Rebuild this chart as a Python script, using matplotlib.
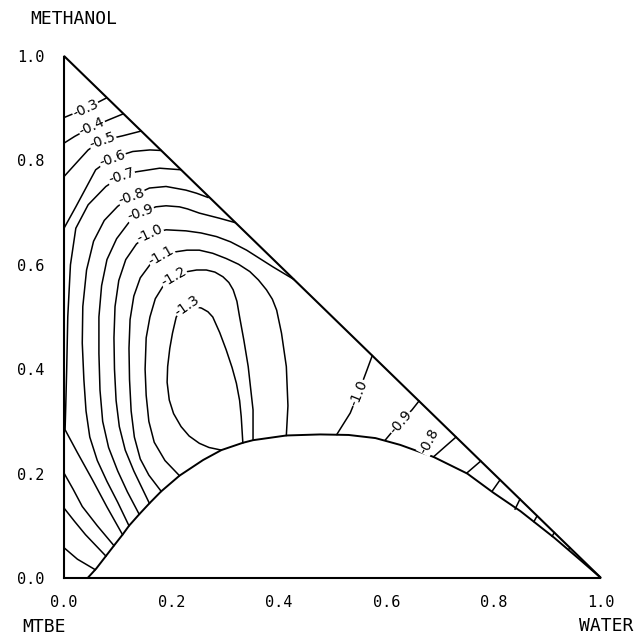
import matplotlib
matplotlib.use("Agg")
import matplotlib.pyplot as plt

# phase boundary (x = water, y = methanol)
binodal_x = [0.044, 0.060, 0.078, 0.093, 0.109, 0.121, 0.140, 0.159, 0.181, 0.215, 0.259, 0.293, 0.333,
             0.352, 0.414, 0.477, 0.530, 0.580, 0.626, 0.688, 0.751, 0.800, 0.850, 0.913, 0.963, 1.000]
binodal_y = [0.000, 0.018, 0.042, 0.062, 0.083, 0.100, 0.122, 0.143, 0.166, 0.196, 0.226, 0.245, 0.259,
             0.264, 0.273, 0.275, 0.274, 0.268, 0.255, 0.232, 0.200, 0.163, 0.128, 0.077, 0.033, 0.000]

# contour lines, (water, methanol) pairs
c03 = [(0.0, 0.882), (0.040, 0.899), (0.078, 0.919)]
c04 = [(0.0, 0.833), (0.020, 0.846), (0.052, 0.864), (0.084, 0.878), (0.110, 0.889)]
c05 = [(0.0, 0.769), (0.022, 0.794), (0.045, 0.820), (0.070, 0.838), (0.109, 0.847), (0.143, 0.856)]
c06 = [(0.0, 0.670), (0.022, 0.711), (0.059, 0.782), (0.088, 0.804), (0.128, 0.817), (0.160, 0.820),
       (0.180, 0.819)]
c07 = [(0.218, 0.782), (0.178, 0.785), (0.134, 0.778), (0.106, 0.769), (0.078, 0.750), (0.045, 0.715),
       (0.022, 0.670), (0.012, 0.600), (0.007, 0.500), (0.005, 0.400), (0.003, 0.320), (0.002, 0.284),
       (0.025, 0.240), (0.053, 0.188), (0.080, 0.136), (0.109, 0.083)]
c08 = [(0.268, 0.729), (0.247, 0.737), (0.227, 0.743), (0.190, 0.750), (0.159, 0.747), (0.126, 0.731),
       (0.100, 0.712), (0.075, 0.685), (0.055, 0.645), (0.042, 0.590), (0.035, 0.520), (0.034, 0.450),
       (0.037, 0.380), (0.041, 0.320), (0.048, 0.270), (0.062, 0.225), (0.080, 0.185), (0.100, 0.145),
       (0.121, 0.100)]
c09 = [(0.318, 0.681), (0.290, 0.689), (0.252, 0.699), (0.230, 0.707), (0.215, 0.711), (0.190, 0.713),
       (0.171, 0.711), (0.143, 0.699), (0.120, 0.680), (0.098, 0.650), (0.080, 0.610), (0.070, 0.560),
       (0.065, 0.500), (0.065, 0.430), (0.067, 0.360), (0.072, 0.300), (0.083, 0.250), (0.100, 0.205),
       (0.118, 0.165), (0.140, 0.122)]
c10 = [(0.428, 0.572), (0.389, 0.596), (0.340, 0.628), (0.310, 0.644), (0.284, 0.654), (0.255, 0.661),
       (0.227, 0.665), (0.190, 0.667), (0.160, 0.659), (0.135, 0.640), (0.115, 0.610), (0.102, 0.570),
       (0.095, 0.520), (0.093, 0.460), (0.094, 0.400), (0.097, 0.340), (0.103, 0.290), (0.114, 0.245),
       (0.130, 0.205), (0.159, 0.143)]
c11 = [(0.414, 0.273), (0.417, 0.330), (0.414, 0.405), (0.405, 0.469), (0.396, 0.513), (0.388, 0.534),
       (0.377, 0.552), (0.362, 0.571), (0.346, 0.587), (0.325, 0.601), (0.302, 0.612), (0.277, 0.622),
       (0.252, 0.628), (0.229, 0.628), (0.209, 0.625), (0.181, 0.617), (0.160, 0.600), (0.142, 0.575),
       (0.130, 0.540), (0.123, 0.495), (0.121, 0.440), (0.122, 0.380), (0.125, 0.320), (0.131, 0.270),
       (0.142, 0.228), (0.158, 0.197), (0.181, 0.166)]
c12 = [(0.352, 0.264), (0.352, 0.322), (0.343, 0.405), (0.335, 0.455), (0.327, 0.500), (0.322, 0.530),
       (0.315, 0.552), (0.307, 0.566), (0.296, 0.577), (0.281, 0.586), (0.265, 0.590), (0.247, 0.590),
       (0.230, 0.587), (0.204, 0.577), (0.185, 0.560), (0.170, 0.535), (0.160, 0.500), (0.153, 0.460),
       (0.151, 0.400), (0.153, 0.350), (0.158, 0.300), (0.168, 0.260), (0.188, 0.225), (0.215, 0.196)]
c13 = [(0.293, 0.245), (0.270, 0.250), (0.252, 0.258), (0.233, 0.272), (0.218, 0.290), (0.204, 0.315),
       (0.196, 0.341), (0.192, 0.375), (0.193, 0.405), (0.197, 0.440), (0.202, 0.469), (0.209, 0.500),
       (0.230, 0.523), (0.256, 0.517), (0.268, 0.510), (0.277, 0.500), (0.290, 0.470), (0.302, 0.437),
       (0.313, 0.403), (0.321, 0.373), (0.327, 0.340), (0.330, 0.309), (0.333, 0.259)]
# lower pieces that start on the MTBE-methanol edge
c06b = [(0.0, 0.201), (0.017, 0.170), (0.034, 0.137), (0.062, 0.100), (0.093, 0.062)]
c05b = [(0.0, 0.134), (0.020, 0.108), (0.040, 0.083), (0.078, 0.042)]
c04b = [(0.0, 0.058), (0.025, 0.036), (0.058, 0.016)]
# pieces in the water-rich corner
c10r = [(0.508, 0.275), (0.533, 0.316), (0.548, 0.354), (0.564, 0.398), (0.574, 0.426)]
c09r = [(0.598, 0.264), (0.615, 0.285), (0.632, 0.305), (0.648, 0.322), (0.661, 0.339)]
c08r = [(0.688, 0.232), (0.710, 0.252), (0.730, 0.270)]
ticks_r = [[(0.750, 0.201), (0.776, 0.224)],
           [(0.797, 0.166), (0.812, 0.188)],
           [(0.840, 0.132), (0.849, 0.151)],
           [(0.875, 0.108), (0.881, 0.119)],
           [(0.909, 0.080), (0.913, 0.087)],
           [(0.940, 0.055), (0.942, 0.058)]]
lines = [c03, c04, c05, c06, c07, c08, c09, c10, c11, c12, c13,
         c06b, c05b, c04b, c10r, c09r, c08r] + ticks_r

# contour labels: text, water, methanol, angle
label_txt = ["-0.3", "-0.4", "-0.5", "-0.6", "-0.7", "-0.8", "-0.9", "-1.0", "-1.1", "-1.2", "-1.3",
             "-1.0", "-0.9", "-0.8"]
label_x = [0.040, 0.052, 0.072, 0.090, 0.107, 0.126, 0.143, 0.160, 0.181, 0.204, 0.230, 0.549, 0.627, 0.680]
label_y = [0.899, 0.864, 0.838, 0.804, 0.769, 0.731, 0.699, 0.659, 0.617, 0.577, 0.521, 0.354, 0.298, 0.262]
label_rot = [25, 25, 20, 20, 18, 20, 20, 25, 30, 30, 35, 68, 50, 62]

tick_vals = [0.0, 0.2, 0.4, 0.6, 0.8, 1.0]
tick_txt = ["0.0", "0.2", "0.4", "0.6", "0.8", "1.0"]

fig = plt.figure(figsize=(6.35, 6.36), dpi=100)
ax = fig.add_axes([0.1008, 0.0912, 0.8457, 0.8208])
ax.set_xlim(0, 1)
ax.set_ylim(0, 1)
for s in ax.spines.values():
    s.set_visible(False)

# triangle and binodal
ax.plot([0, 1, 0, 0], [0, 0, 1, 0], color="black", lw=1.5, clip_on=False, solid_joinstyle="miter")
ax.plot(binodal_x, binodal_y, color="black", lw=1.4, solid_joinstyle="round")

for ln in lines:
    xs = [p[0] for p in ln]
    ys = [p[1] for p in ln]
    ax.plot(xs, ys, color="black", lw=1.1, solid_joinstyle="round")

for t, x, y, r in zip(label_txt, label_x, label_y, label_rot):
    ax.text(x, y, t, rotation=r, ha="center", va="center", fontsize=10,
            rotation_mode="anchor",
            bbox=dict(boxstyle="square,pad=0.05", fc="white", ec="none"))

mono = "DejaVu Sans Mono"
ax.set_xticks(tick_vals)
ax.set_xticklabels(tick_txt, family=mono)
ax.set_yticks(tick_vals)
ax.set_yticklabels(tick_txt, family=mono)
ax.tick_params(length=0, labelsize=11)
ax.tick_params(axis="x", pad=12)
ax.tick_params(axis="y", pad=14)

fig.text(0.047, 0.970, "METHANOL", family=mono, fontsize=13, va="center", ha="left")
fig.text(0.035, 0.014, "MTBE", family=mono, fontsize=13, va="center", ha="left")
fig.text(0.997, 0.016, "WATER", family=mono, fontsize=13, va="center", ha="right")

fig.savefig("out.png", dpi=100)
